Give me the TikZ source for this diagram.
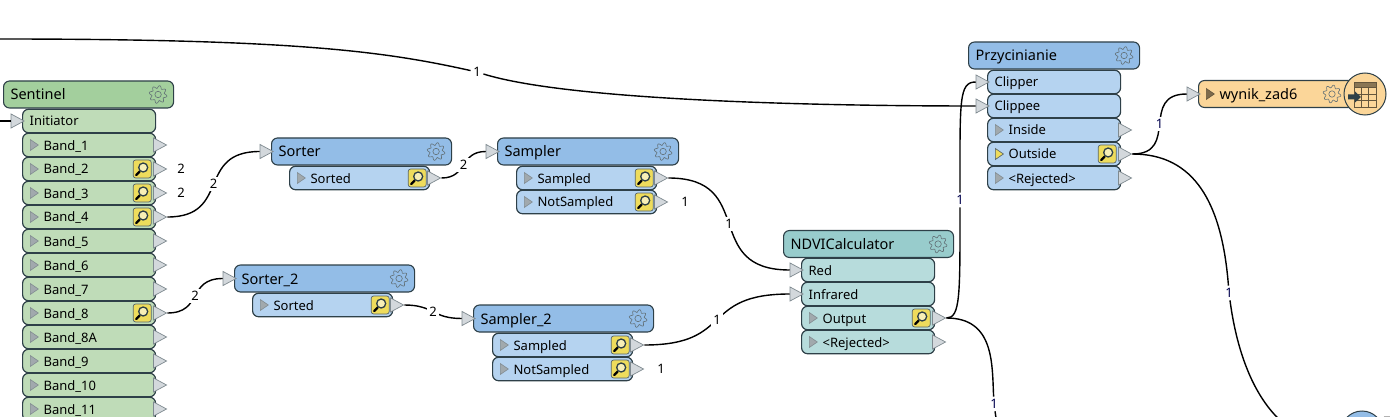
\documentclass[tikz,border=0pt]{standalone}
\usepackage{fontspec}
\setmainfont{Noto Sans}
\usepackage{xcolor}
\usetikzlibrary{shapes.geometric,arrows}
\definecolor{fmeedge}{HTML}{2E4048}
\definecolor{greenhead}{HTML}{A3CF9D}
\definecolor{greenport}{HTML}{BFDCB8}
\definecolor{bluehead}{HTML}{93BDE7}
\definecolor{blueport}{HTML}{B5D3F0}
\definecolor{tealhead}{HTML}{98CCCC}
\definecolor{tealport}{HTML}{B7DCDC}
\definecolor{orangehead}{HTML}{FBD699}
\definecolor{tipfill}{HTML}{D3D8DC}
\definecolor{tipedge}{HTML}{7F8A90}
\definecolor{viewyellow}{HTML}{EEDC5C}
\definecolor{countblue}{HTML}{00004D}
\tikzset{
	headbox/.style={draw=fmeedge,rounded corners=6pt,line width=1.1pt,anchor=west,inner xsep=7pt,inner ysep=0pt,minimum height=27pt,text width=#1,text height=11pt,text depth=0pt,align=left,font=\fontsize{14.5}{16}\selectfont},
	portbox/.style={draw=fmeedge,rounded corners=6pt,line width=1.2pt,anchor=west,inner xsep=7pt,inner ysep=0pt,minimum height=23.5pt,text width=#1,text height=10pt,text depth=0pt,align=left,font=\fontsize{13}{15}\selectfont},
	tipbox/.style={isosceles triangle,isosceles triangle stretches,draw=tipedge,fill=tipfill,line width=.7pt,inner sep=0pt,minimum width=14pt,minimum height=13pt},
	markbox/.style={isosceles triangle,isosceles triangle stretches,draw=fmeedge!60,fill=fmeedge!45,line width=.6pt,inner sep=0pt,minimum width=11pt,minimum height=8pt,anchor=lower side},
	wire/.style={line width=1.4pt,black},
	count/.style={inner sep=2.5pt,font=\fontsize{13}{15}\selectfont},
	gear/.pic={
		\draw[fmeedge!75,line width=.6pt] plot[domain=0:360,samples=65,variable=\t] (\t:{7.6+1.4*sin(8*\t)}) -- cycle;
		\draw[fmeedge!75,line width=.6pt] (0,0) circle (3.2);
	},
	viewer/.pic={
		\draw[fmeedge!80,fill=viewyellow,rounded corners=2.5pt,line width=.7pt] (-9,-9) rectangle (9,9);
		\draw[black,line width=2.2pt,line cap=round] (-2.5,2.5) -- (-6,6);
		\draw[fmeedge,fill=viewyellow!45,line width=1.3pt] (1,-1.5) circle (4.5);
	},
}
\newcommand{\fmehead}[6]{
	\node[headbox=#5,fill=#2] (#1) at (#3,#4) {#6};
	\pic at ([xshift=-16pt]#1.east) {gear};
}
\newcommand{\inport}[6]{
	\node[portbox=#5,fill=#2] (#1) at (#3,#4) {#6};
	\node[tipbox,anchor=apex] (#1t) at ([xshift=3pt]#1.west) {};
}
\newcommand{\outport}[6]{
	\node[portbox=#5,fill=#2] (#1) at (#3,#4) {\hspace*{14pt}#6};
	\node[markbox] (#1m) at ([xshift=8pt]#1.west) {};
	\node[tipbox,anchor=lower side] (#1t) at ([xshift=-3pt]#1.east) {};
}
\begin{document}
\begin{tikzpicture}[x=1pt,y=-1pt]
	\useasboundingbox (0,0) rectangle (1390,417);
	% Sentinel
	\fmehead{sentinel}{greenhead}{3}{94.5}{156pt}{Sentinel}
	\inport{initiator}{greenport}{22}{121}{119pt}{Initiator}
	\foreach \n/\ypos in {1/145,2/169,3/193,4/217,5/241,6/265,7/289,8/313,8A/337,9/361,10/385,11/409}
		{\outport{band\n}{greenport}{22}{\ypos}{119pt}{Band\_\n}}
	\foreach \n in {2,3,4,8}
		\pic at ([xshift=-14pt]band\n.east) {viewer};
	% Sorter
	\fmehead{sorter}{bluehead}{271}{151.5}{166pt}{Sorter}
	\node[tipbox,anchor=apex] (sortert) at ([xshift=3pt]sorter.west) {};
	\outport{sorted}{blueport}{289}{178}{126pt}{Sorted}
	\pic at ([xshift=-13pt]sorted.east) {viewer};
	\fmehead{sortertwo}{bluehead}{234}{278.5}{166pt}{Sorter\_2}
	\node[tipbox,anchor=apex] (sortertwot) at ([xshift=3pt]sortertwo.west) {};
	\outport{sortedtwo}{blueport}{252}{305}{126pt}{Sorted}
	\pic at ([xshift=-13pt]sortedtwo.east) {viewer};
	% Sampler
	\fmehead{sampler}{bluehead}{497}{151.5}{167pt}{Sampler}
	\node[tipbox,anchor=apex] (samplert) at ([xshift=3pt]sampler.west) {};
	\outport{sampled}{blueport}{516}{178}{126pt}{Sampled}
	\outport{notsampled}{blueport}{516}{202}{126pt}{NotSampled}
	\pic at ([xshift=-13pt]sampled.east) {viewer};
	\pic at ([xshift=-13pt]notsampled.east) {viewer};
	\fmehead{samplertwo}{bluehead}{473}{318.5}{166pt}{Sampler\_2}
	\node[tipbox,anchor=apex] (samplertwot) at ([xshift=3pt]samplertwo.west) {};
	\outport{sampledtwo}{blueport}{492}{345}{126pt}{Sampled}
	\outport{notsampledtwo}{blueport}{492}{369}{126pt}{NotSampled}
	\pic at ([xshift=-13pt]sampledtwo.east) {viewer};
	\pic at ([xshift=-13pt]notsampledtwo.east) {viewer};
	% NDVICalculator
	\fmehead{ndvi}{tealhead}{783}{244}{156pt}{NDVICalculator}
	\inport{red}{tealport}{801}{270}{119pt}{Red}
	\inport{infrared}{tealport}{801}{294}{119pt}{Infrared}
	\outport{output}{tealport}{801}{318}{119pt}{Output}
	\outport{rejectedn}{tealport}{801}{342}{119pt}{<Rejected>}
	\pic at ([xshift=-14pt]output.east) {viewer};
	% Przycinianie
	\fmehead{przyc}{bluehead}{968}{55.5}{157pt}{Przycinianie}
	\inport{clipper}{blueport}{987}{82}{119pt}{Clipper}
	\inport{clippee}{blueport}{987}{106}{119pt}{Clippee}
	\outport{inside}{blueport}{987}{130}{119pt}{Inside}
	\outport{outside}{blueport}{987}{154}{119pt}{Outside}
	\outport{rejectedp}{blueport}{987}{178}{119pt}{<Rejected>}
	\pic at ([xshift=-14pt]outside.east) {viewer};
	\node[markbox,fill=viewyellow,draw=fmeedge!80] (outsidey) at ([xshift=8pt]outside.west) {};
	% wynik_zad6
	\node[headbox=153pt,fill=orangehead] (wynik) at (1198,94) {\hspace*{14pt}wynik\_zad6};
	\node[tipbox,anchor=apex] (wynikt) at ([xshift=3pt]wynik.west) {};
	\node[markbox,fill=orangehead!50!black,draw=orangehead!40!black] (wynikm) at ([xshift=8pt]wynik.west) {};
	\pic at (1332,94) {gear};
	\node[circle,draw=fmeedge,fill=orangehead,line width=1pt,minimum size=42pt,inner sep=0pt] (wynikc) at (1365,94) {};
	\fill[orangehead!55!black] (1354,82) rectangle (1376,87);
	\draw[orangehead!40!black,line width=.7pt] (1354,82) rectangle (1376,107) (1354,87) -- (1376,87)
		(1354,94) -- (1376,94) (1354,100) -- (1376,100) (1361,87) -- (1361,107) (1368,87) -- (1368,107);
	\fill[fmeedge] (1348,94.5) -- (1355,94.5) -- (1355,91.5) -- (1361,97) -- (1355,102.5) -- (1355,99.5) -- (1348,99.5) -- cycle;
	% bottom right bookmark
	\node[circle,draw=fmeedge,fill=bluehead,line width=1pt,minimum size=42pt,inner sep=0pt] (nextc) at (1362,432) {};
	\draw[gray!60,line width=1pt] (nextc.east |- 0,416.5) -- (1390,416.5);
	% free ends
	\coordinate (toplft) at (0,39);
	\coordinate (initlft) at (0,121);
	\coordinate (ndviend) at (997,425);
	\coordinate (outend) at (1282,422);
	% counts
	\node[count] (clab) at (477,72) {1};
	\node[count,text=countblue] (clipc) at (960,200) {1};
	\node[count,text=countblue] (outc) at (994,404) {1};
	\node[count,text=countblue] (bottomc) at (1229,293) {1};
	\node[count] (b2c) at (181,169) {2};
	\node[count] (b3c) at (181,193) {2};
	\node[count] (nsc) at (685,202) {1};
	\node[count] (nstwoc) at (661,369) {1};
	%
	\path[wire]
	(band4t.apex) edge[out=0,in=180,looseness=1.45] node[count,fill=white] (c1) {2} (sortert.lower side)
	(sortedt.apex) edge[out=0,in=180,looseness=1.3] node[count,fill=white] (c2) {2} (samplert.lower side)
	(band8t.apex) edge[out=0,in=180,looseness=1.4] node[count,fill=white] (c3) {2} (sortertwot.lower side)
	(sortedtwot.apex) edge[out=0,in=180,looseness=1.3] node[count,fill=white] (c4) {2} (samplertwot.lower side)
	(sampledt.apex) edge[out=0,in=180,looseness=1.5] node[count,fill=white] (c5) {1} (redt.lower side)
	(sampledtwot.apex) edge[out=0,in=180,looseness=1.5] node[count,fill=white] (c6) {1} (infraredt.lower side)
	(outsidet.apex) edge[out=0,in=180,looseness=1.5] node[count,fill=white,text=countblue] (c7) {1} (wynikt.lower side)
	(initlft) edge (initiatort.lower side);
	%
	\draw[wire] (toplft) .. controls +(300,0) and +(-90,-20) .. (clab);
	\draw[wire] (clab) .. controls +(90,28) and +(-170,0) .. (clippeet.lower side);
	\draw[wire] (outputt.apex) .. controls +(14,0) and +(0,95) .. (clipc);
	\draw[wire] (clipc) .. controls +(0,-100) and +(-17,0) .. (clippert.lower side);
	\draw[wire] (outputt.apex) .. controls +(48,0) and +(-2,-40) .. (outc);
	\draw[wire] (outc) -- (ndviend);
	\draw[wire] (outsidet.apex) .. controls +(62,0) and +(-7,-90) .. (bottomc);
	\draw[wire] (bottomc) .. controls +(8,60) and +(-28,-25) .. (outend);
\end{tikzpicture}
\end{document}
